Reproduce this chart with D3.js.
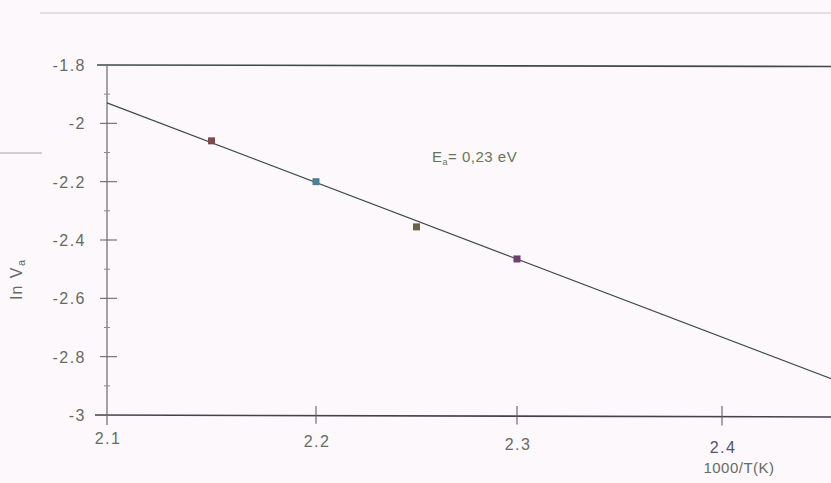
<!DOCTYPE html>
<html>
<head>
<meta charset="utf-8">
<script src="https://cdn.jsdelivr.net/npm/d3@7"></script>
<style>
	body { margin: 0; background: #fdf8fb; }
	svg { display: block; font-family: "Liberation Sans", Arial, sans-serif; }
	.tick-label { font-size: 16px; fill: #656c63; letter-spacing: 1.5px; }
</style>
</head>
<body>
<div id="chart"></div>
<script>
// measured points
const invT = [2.15, 2.2, 2.25, 2.3];
const lnV = [-2.06, -2.20, -2.355, -2.465];
const pointColors = ["#7d4b4e", "#4f7d93", "#6e6142", "#6d3f6e"];

// fitted line ends
const fitX = [2.1, 2.46];
const fitY = [-1.93, -2.8936];

const xTicks = [2.1, 2.2, 2.3, 2.4];
const yTicks = [-1.8, -2, -2.2, -2.4, -2.6, -2.8, -3];
const yMinor = [-1.9, -2.1, -2.3, -2.5, -2.7, -2.9];

const W = 831, H = 483;

const svg = d3.select("#chart").append("svg")
	.attr("width", W)
	.attr("height", H);

// scanned original is slightly uneven along x, so map each tick
const x = d3.scaleLinear().domain(xTicks).range([107, 316, 517, 722]);
const y = d3.scaleLinear().domain([-1.8, -3]).range([65, 415]);

// hyphen-minus like the original print
const fmt = d => String(d).replace("−", "-");

// scan artifacts: faint rule at top, stub on left
svg.append("line").attr("x1", 40).attr("x2", W).attr("y1", 13).attr("y2", 13)
	.attr("stroke", "#d8d6d8").attr("stroke-width", 1.5);
svg.append("line").attr("x1", 0).attr("x2", 42).attr("y1", 153).attr("y2", 153)
	.attr("stroke", "#a8a8a8").attr("stroke-width", 1);

// frame lines at -1.8 and -3
svg.append("line")
	.attr("x1", 97).attr("x2", W)
	.attr("y1", y(-1.8)).attr("y2", y(-1.8) + 1.5)
	.attr("stroke", "#3f4a45").attr("stroke-width", 1.6);
svg.append("line")
	.attr("x1", 95).attr("x2", W)
	.attr("y1", y(-3)).attr("y2", y(-3) + 2)
	.attr("stroke", "#4a3f4f").attr("stroke-width", 1.6);

// y axis line
svg.append("line")
	.attr("x1", x(2.1)).attr("x2", x(2.1))
	.attr("y1", y(-1.8)).attr("y2", y(-3) + 10)
	.attr("stroke", "#6a6a6a").attr("stroke-width", 1.2);

// y ticks (cross the axis)
svg.selectAll(".ytick").data(yTicks.slice(1, -1)).enter().append("line")
	.attr("class", "ytick")
	.attr("x1", x(2.1) - 7).attr("x2", x(2.1) + 10)
	.attr("y1", d => y(d)).attr("y2", d => y(d))
	.attr("stroke", "#6a6a6a").attr("stroke-width", 1.1);
svg.selectAll(".yminor").data(yMinor).enter().append("line")
	.attr("class", "yminor")
	.attr("x1", x(2.1) - 3).attr("x2", x(2.1) + 3)
	.attr("y1", d => y(d)).attr("y2", d => y(d))
	.attr("stroke", "#8a8a8a").attr("stroke-width", 1);

svg.selectAll(".ylab").data(yTicks).enter().append("text")
	.attr("class", "tick-label")
	.attr("x", 86)
	.attr("y", d => y(d) + 6)
	.attr("text-anchor", "end")
	.text(fmt);

// x ticks
svg.selectAll(".xtick").data(xTicks.slice(1)).enter().append("line")
	.attr("class", "xtick")
	.attr("x1", d => x(d)).attr("x2", d => x(d))
	.attr("y1", d => y(-3) - 9).attr("y2", d => y(-3) + 8 + (d - 2.1) * 8)
	.attr("stroke", "#6a5a6a").attr("stroke-width", 1.1);

svg.selectAll(".xlab").data(xTicks).enter().append("text")
	.attr("class", "tick-label")
	.attr("x", d => x(d) + 1)
	.attr("y", d => 444 + (d - 2.1) * 30)
	.attr("text-anchor", "middle")
	.style("fill", d => d === 2.4 ? "#4e5470" : "#656c63")
	.text(d => d3.format(".1f")(d));

svg.append("text")
	.attr("class", "tick-label")
	.attr("x", 739).attr("y", 473)
	.attr("text-anchor", "middle")
	.style("font-size", "15px")
	.style("letter-spacing", "0.5px")
	.text("1000/T(K)");

// y label
const yl = svg.append("text")
	.attr("class", "tick-label")
	.attr("transform", "translate(22,279) rotate(-90)")
	.attr("text-anchor", "middle")
	.style("font-size", "16px");
yl.append("tspan").text("ln V");
yl.append("tspan").attr("dy", 3).style("font-size", "11px").text("a");

// fit line
svg.append("line")
	.attr("x1", x(fitX[0])).attr("y1", y(fitY[0]))
	.attr("x2", x(fitX[1])).attr("y2", y(fitY[1]))
	.attr("stroke", "#3e4e48").attr("stroke-width", 1.3);

// markers
svg.selectAll(".pt").data(invT).enter().append("rect")
	.attr("class", "pt")
	.attr("x", d => x(d) - 3.5)
	.attr("y", (d, i) => y(lnV[i]) - 3.5)
	.attr("width", 7).attr("height", 7)
	.attr("fill", (d, i) => pointColors[i]);

// annotation
const ann = svg.append("text")
	.attr("class", "tick-label")
	.attr("x", 432).attr("y", 162)
	.style("fill", "#667558")
	.style("font-size", "15px")
	.style("letter-spacing", "0.5px");
ann.append("tspan").text("E");
ann.append("tspan").attr("dy", 3).style("font-size", "9px").text("a");
ann.append("tspan").attr("dy", -3).text("= 0,23  eV");
</script>
</body>
</html>
